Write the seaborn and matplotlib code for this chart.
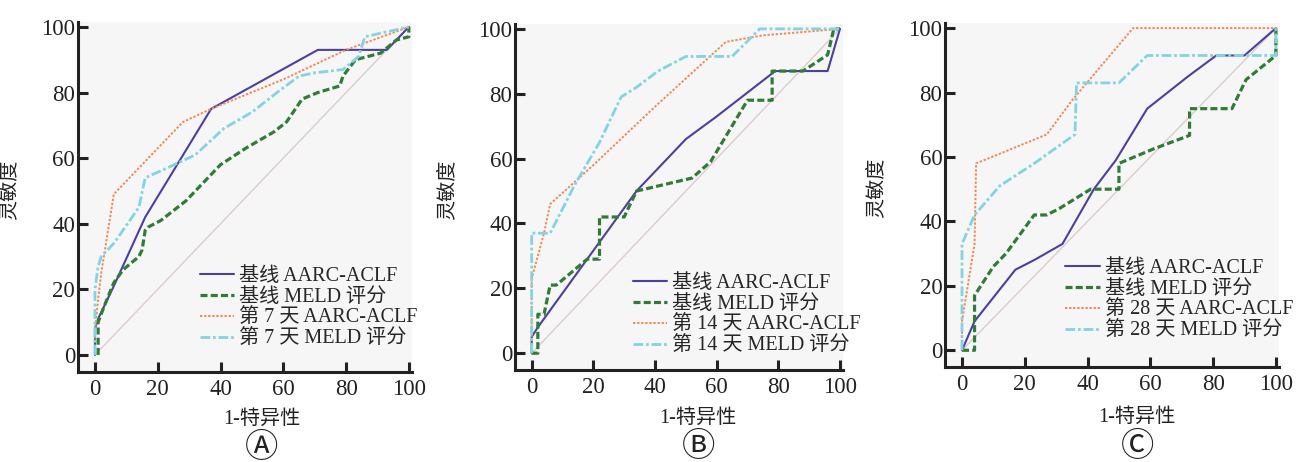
import pandas as pd
import seaborn as sns
import matplotlib.pyplot as plt

# ---- data (1-specificity %, sensitivity %) ----
# panel A: baseline vs day 7
a_aarc_x = [0, 0, 1, 6, 16, 37, 71, 93, 100]
a_aarc_y = [0, 8, 11, 21, 42, 75, 93, 93, 100]
a_meld_x = [1, 1, 3, 6, 9, 14, 15, 16, 17, 21, 29, 40, 48, 57, 61, 66, 71, 78, 79, 83, 91, 96, 100, 100]
a_meld_y = [0, 10, 15, 22, 26, 30, 32, 38, 39, 41, 47, 58, 63, 68, 71, 78, 80, 82, 85, 90, 92, 96, 97, 100]
a_d_aarc_x = [0, 0, 1, 2, 6, 28, 37, 60, 80, 100]
a_d_aarc_y = [0, 7, 17, 25, 49, 71, 75, 84, 93, 100]
a_d_meld_x = [0, 0, 1, 2, 6, 14, 16, 23, 32, 41, 50, 58, 65, 70, 79, 84, 85, 86, 93, 100]
a_d_meld_y = [0, 20, 27, 30, 34, 45, 54, 57, 61, 69, 74, 80, 85, 86, 87, 91, 94, 97, 98.5, 100]

# panel B: baseline vs day 14
b_aarc_x = [0, 0, 2, 34, 50, 60, 79, 96, 100]
b_aarc_y = [0, 5, 8, 50, 66, 73, 87, 87, 100]
b_meld_x = [0, 2, 2, 4, 6, 8, 18, 22, 22, 30, 34, 43, 52, 58, 70, 78, 78, 88, 96, 98, 100]
b_meld_y = [0, 0, 12, 12, 21, 21, 29, 29, 42, 42, 50, 52, 54, 59, 78, 78, 87, 87, 92, 100, 100]
b_d_aarc_x = [0, 0, 4, 6, 20, 40, 63, 75, 100]
b_d_aarc_y = [0, 23, 37, 46, 58, 76, 96, 98, 100]
b_d_meld_x = [0, 0, 6, 14, 22, 29, 34, 41, 50, 65, 74, 100]
b_d_meld_y = [0, 37, 37, 52, 65, 79, 82, 87, 91.5, 91.5, 100, 100]

# panel C: baseline vs day 28
c_aarc_x = [0, 4, 17, 23, 32, 42, 49, 59, 72, 81, 90, 100]
c_aarc_y = [0, 9, 25, 28, 33, 50, 59, 75, 85, 91.5, 91.5, 100]
c_meld_x = [0, 4, 4, 10, 14, 23, 27, 31, 41, 50, 50, 61, 72.5, 72.5, 86, 90.5, 100, 100]
c_meld_y = [0, 0, 17, 26, 30, 42, 42, 44, 50, 50, 58, 62.5, 66.7, 75, 75, 84, 91.5, 100]
c_d_aarc_x = [0, 0, 4, 4.5, 27, 35, 54.5, 100]
c_d_aarc_y = [0, 9, 33, 58, 67, 77.5, 100, 100]
c_d_meld_x = [0, 0, 4, 12, 23, 36, 36.5, 50, 59, 100, 100]
c_d_meld_y = [0, 33, 42, 51, 58, 67, 83, 83, 91.5, 91.5, 100]

labels_a = ["基线 AARC-ACLF", "基线 MELD 评分", "第 7 天 AARC-ACLF", "第 7 天 MELD 评分"]
labels_b = ["基线 AARC-ACLF", "基线 MELD 评分", "第 14 天 AARC-ACLF", "第 14 天 MELD 评分"]
labels_c = ["基线 AARC-ACLF", "基线 MELD 评分", "第 28 天 AARC-ACLF", "第 28 天 MELD 评分"]
ticks = [0, 20, 40, 60, 80, 100]

colors = ["#4b3fa6", "#2f7d34", "#f28a52", "#80d4e4"]
widths = [1.5, 2.3, 1.4, 2.0]
dash_styles = ["", (2.2, 1.0), (1.2, 0.9), (3.5, 1.0, 1.0, 1.0)]

sns.set_theme(style="ticks")
plt.rcParams["font.family"] = ["Liberation Serif", "Noto Sans CJK SC", "DejaVu Sans"]
plt.rcParams["axes.unicode_minus"] = False

fig = plt.figure(figsize=(12.96, 4.62), dpi=100)
fig.patch.set_facecolor("white")

panels = [
    ([0.0602, 0.1948, 0.2577, 0.7576],
     [(a_aarc_x, a_aarc_y), (a_meld_x, a_meld_y), (a_d_aarc_x, a_d_aarc_y), (a_d_meld_x, a_d_meld_y)],
     labels_a, "Ⓐ", (0.55, -0.109), (0.55, -0.215), (0.365, 0.065)),
    ([0.3974, 0.1990, 0.2531, 0.7490],
     [(b_aarc_x, b_aarc_y), (b_meld_x, b_meld_y), (b_d_aarc_x, b_d_aarc_y), (b_d_meld_x, b_d_meld_y)],
     labels_b, "Ⓑ", (0.558, -0.112), (0.56, -0.222), (0.36, 0.04)),
    ([0.7292, 0.2056, 0.2577, 0.7440],
     [(c_aarc_x, c_aarc_y), (c_meld_x, c_meld_y), (c_d_aarc_x, c_d_aarc_y), (c_d_meld_x, c_d_meld_y)],
     labels_c, "Ⓒ", (0.575, -0.118), (0.575, -0.232), (0.36, 0.075)),
]

for rect, curves, labels, letter, xlab_pos, letter_pos, leg_pos in panels:
    ax = fig.add_axes(rect)
    ax.set_facecolor("#f6f6f6")

    frames = []
    for (xs, ys), lab in zip(curves, labels):
        frames.append(pd.DataFrame({"fpr": xs, "tpr": ys, "curve": lab}))
    df = pd.concat(frames, ignore_index=True)

    # reference diagonal
    ax.plot([0, 100], [0, 100], color="#dccccc", lw=1.0, zorder=1)

    sns.lineplot(data=df, x="fpr", y="tpr", hue="curve", style="curve",
                 hue_order=labels, style_order=labels,
                 palette=dict(zip(labels, colors)),
                 dashes=dict(zip(labels, dash_styles)),
                 sort=False, estimator=None, legend=False, ax=ax, zorder=3)

    curve_lines = ax.lines[1:5]
    for ln, w in zip(curve_lines, widths):
        ln.set_linewidth(w)

    ax.legend(curve_lines, labels, loc="lower left", bbox_to_anchor=leg_pos,
              frameon=False, fontsize=14.5, handlelength=1.7, handletextpad=0.25,
              labelspacing=0.1, borderpad=0, borderaxespad=0)

    ax.set_xlim(-5.4, 101)
    ax.set_ylim(-5.2, 101.5)
    ax.set_xticks(ticks)
    ax.set_yticks(ticks)
    sns.despine(ax=ax)
    for s in ["left", "bottom"]:
        ax.spines[s].set_linewidth(2.2)
        ax.spines[s].set_color("#222222")
    ax.tick_params(direction="in", length=7, width=2.2, color="#222222",
                   labelsize=16.5, labelcolor="#222222")
    ax.tick_params(axis="x", pad=5)
    ax.tick_params(axis="y", pad=2)

    ax.set_xlabel("1-特异性", fontsize=14.5, color="#222222")
    ax.set_ylabel("灵敏度", fontsize=14.5, color="#222222")
    ax.xaxis.set_label_coords(*xlab_pos)
    ax.yaxis.set_label_coords(-0.175, 0.52)

    ax.text(letter_pos[0], letter_pos[1], letter, transform=ax.transAxes,
            ha="center", va="center", fontsize=24, color="#222222",
            family=["DejaVu Sans", "Noto Sans CJK SC"])

fig.savefig("out.png", dpi=100, facecolor="white")
